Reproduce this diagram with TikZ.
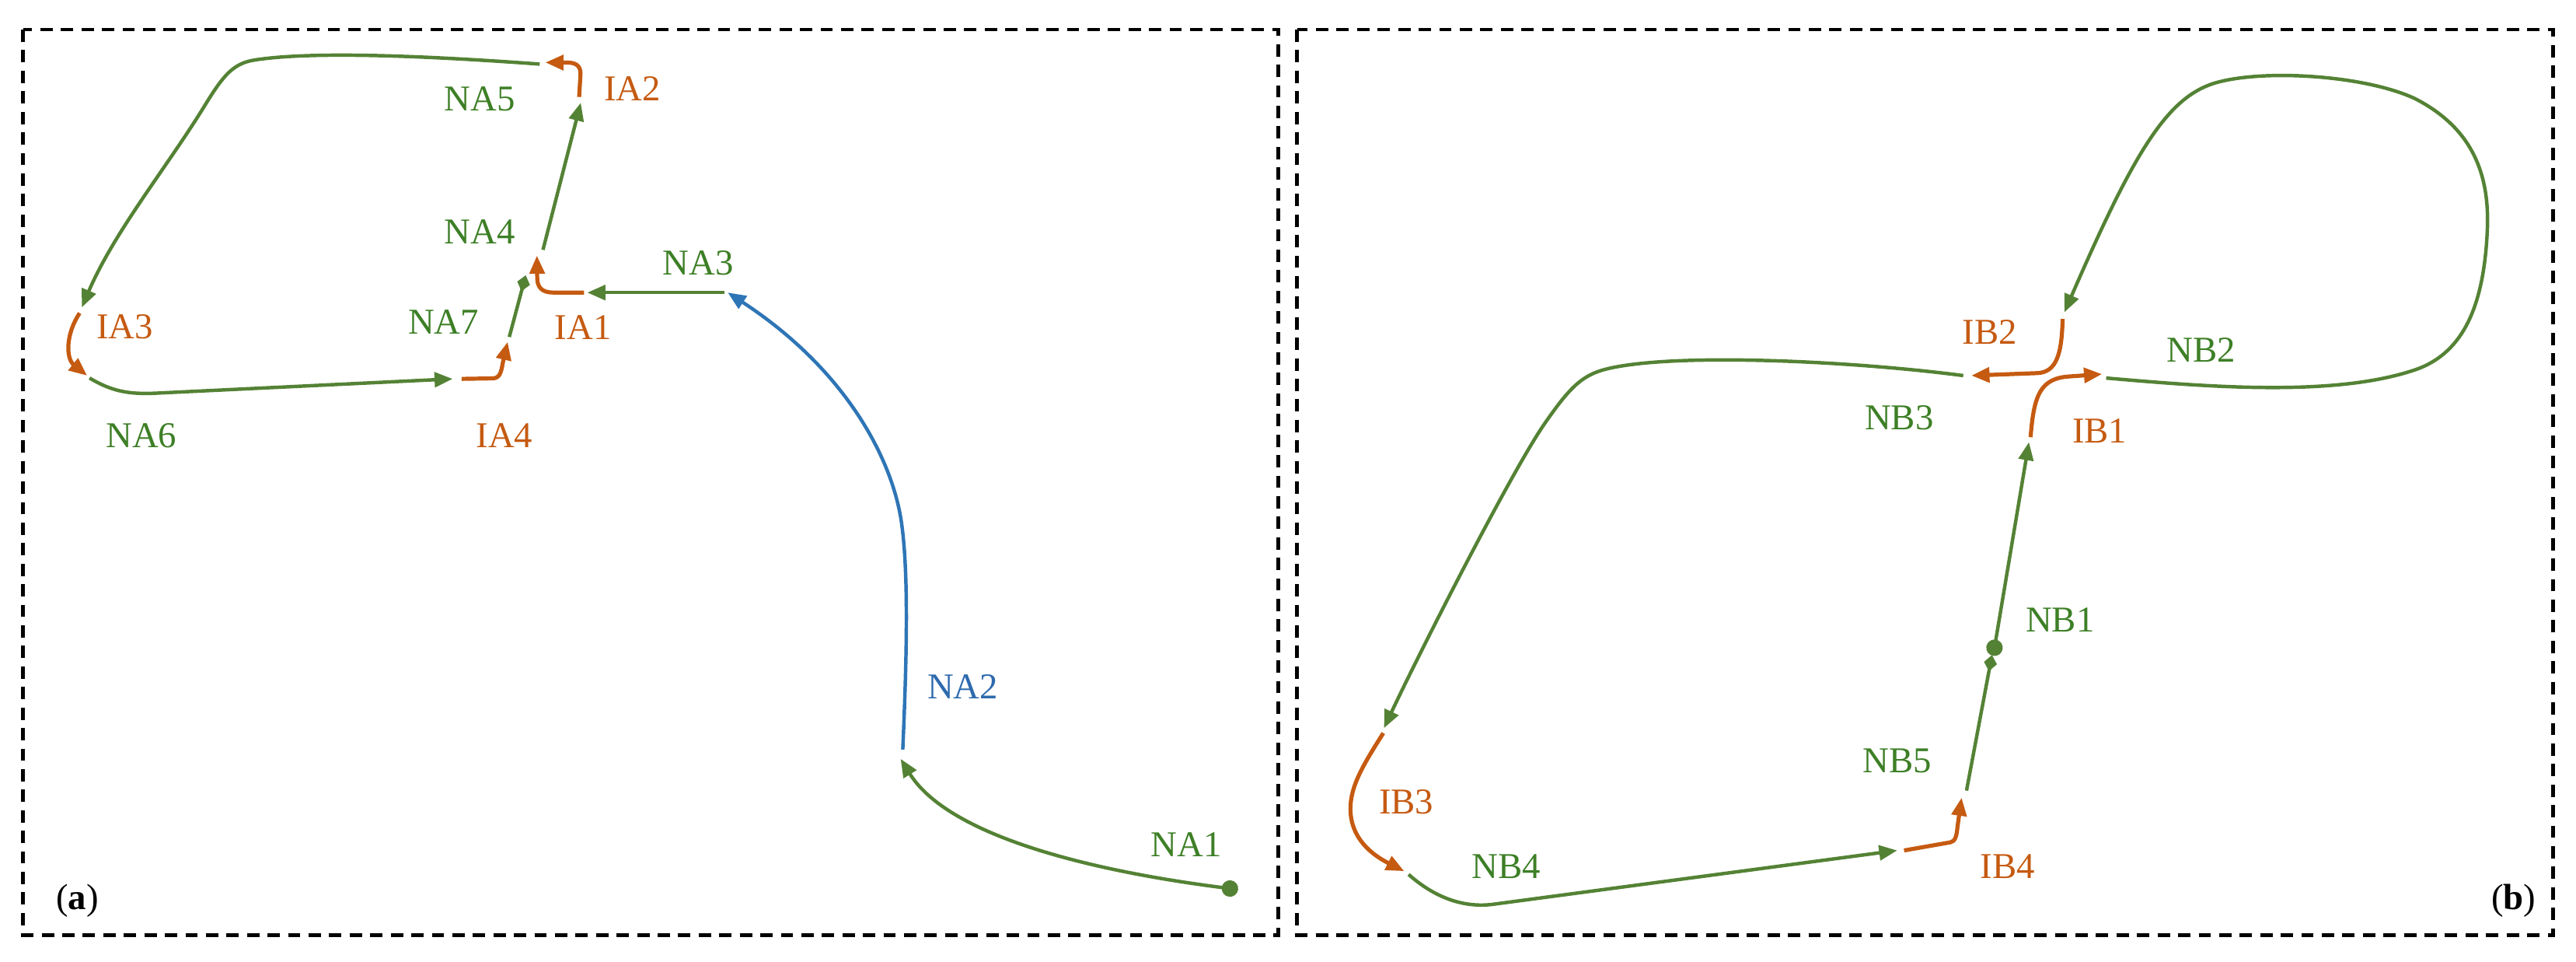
\documentclass[tikz,border=0pt]{standalone}
\usepackage{fontspec}
\setmainfont{Liberation Serif}
\usetikzlibrary{arrows.meta}
\definecolor{cgreen}{HTML}{548235}
\definecolor{tgreen}{HTML}{3D7F26}
\definecolor{corange}{HTML}{C55A11}
\definecolor{cblue}{HTML}{2E75B6}
\definecolor{tblue}{HTML}{2E6AAE}
\tikzset{
  >={Triangle[length=0.22cm,width=0.18cm]},
  gline/.style={draw=cgreen,line width=1.2pt},
  oline/.style={draw=corange,line width=1.4pt,line join=round},
  bline/.style={draw=cblue,line width=1.2pt},
  frame/.style={draw=black,line width=1.3pt,dash pattern=on 0.15cm off 0.1cm},
  lab/.style={inner sep=0pt,font=\fontsize{12.6}{15}\selectfont},
  glab/.style={lab,text=tgreen},
  olab/.style={lab,text=corange},
  blab/.style={lab,text=tblue},
  dotstart/.style={{Circle[length=0.2cm]}->},
  diaend/.style={-{Diamond[length=0.2cm,width=0.16cm]}},
}
\begin{document}
\begin{tikzpicture}[x=0.02cm,y=-0.02cm]
\useasboundingbox (0,0) rectangle (1568,585);
\draw[frame] (14,18) rectangle (778,569);
\draw[frame] (789.5,18) rectangle (1554,569);

% ---------- panel (a) coordinates ----------
\coordinate (a1s) at (753.6,541.2);
\coordinate (a1e) at (548.2,461.7);
\coordinate (a2s) at (549.5,456);
\coordinate (a2e) at (443,178);
\coordinate (a3s) at (441,178);
\coordinate (a3e) at (357.5,178);
\coordinate (i1s) at (355.5,178);
\coordinate (i1e) at (326.8,155.5);
\coordinate (a4s) at (330.5,152);
\coordinate (a4e) at (353.5,62.5);
\coordinate (i2s) at (352.5,59);
\coordinate (i2e) at (332,38);
\coordinate (a5s) at (328.5,39);
\coordinate (a5e) at (49.8,187);
\coordinate (i3s) at (48.5,190.5);
\coordinate (i3e) at (53,228.5);
\coordinate (a6s) at (54.5,230);
\coordinate (a6e) at (275.5,230.5);
\coordinate (i4s) at (281,230.5);
\coordinate (i4e) at (309,208);
\coordinate (a7s) at (310,205);
\coordinate (a7e) at (320,167.5);

\draw[gline,dotstart] (a1s) .. controls (650,528) and (575,505) .. (a1e);
\draw[bline,->] (a2s) .. controls (552,400) and (553,350) .. (549,320)
   .. controls (544,280) and (515,225) .. (a2e);
\draw[gline,->] (a3s) -- (a3e);
\draw[oline,->] (i1s) -- (337,178) .. controls (330,178) and (327,175) .. (327,169) -- (i1e);
\draw[gline,->] (a4s) -- (a4e);
\draw[oline,->] (i2s) -- (353.3,46) .. controls (353.8,40.5) and (351,38.2) .. (346,38.1) -- (i2e);
\draw[gline,->] (a5s) .. controls (260,34) and (190,31) .. (155,36.5)
   .. controls (142,38.5) and (136,46) .. (126,62)
   .. controls (103,100) and (70,140) .. (a5e);
\draw[oline,->] (i3s) .. controls (40,203) and (40,218) .. (i3e);
\draw[gline,->] (a6s) .. controls (68,238) and (78,240) .. (95,239.2) -- (a6e);
\draw[oline,->] (i4s) -- (300,230.2) .. controls (304,230) and (305,227) .. (306,221) -- (i4e);
\draw[gline,diaend] (a7s) -- (a7e);

\node[glab] (NA1) at (722,514) {NA1};
\node[blab] (NA2) at (586,418) {NA2};
\node[glab] (NA3) at (425,160) {NA3};
\node[glab] (NA4) at (292,141) {NA4};
\node[glab] (NA5) at (292,60) {NA5};
\node[glab] (NA6) at (86,265) {NA6};
\node[glab] (NA7) at (270,196) {NA7};
\node[olab] (IA1) at (355,199) {IA1};
\node[olab] (IA2) at (385,54) {IA2};
\node[olab] (IA3) at (76,199) {IA3};
\node[olab] (IA4) at (307,265) {IA4};
\node[lab] (la) at (47,548) {(\textbf{a})};

% ---------- panel (b) coordinates ----------
\coordinate (b1s) at (1213.2,399);
\coordinate (b1e) at (1235,269);
\coordinate (j1s) at (1236,266);
\coordinate (j1e) at (1279.5,227.6);
\coordinate (b2s) at (1282,230);
\coordinate (b2e) at (1256.6,190);
\coordinate (j2s) at (1255.5,194);
\coordinate (j2e) at (1200,228.5);
\coordinate (b3s) at (1195,228.5);
\coordinate (b3e) at (842.4,443);
\coordinate (j3s) at (842,446);
\coordinate (j3e) at (854.7,530);
\coordinate (b4s) at (857.4,532);
\coordinate (b4e) at (1154.8,517.4);
\coordinate (j4s) at (1159,517.4);
\coordinate (j4e) at (1194,485.3);
\coordinate (b5s) at (1197,481);
\coordinate (b5e) at (1212.5,398.5);

\draw[gline,dotstart] (b1s) -- (b1e);
\draw[oline,->] (j1s) .. controls (1238,240) and (1242,230) .. (1260,229) -- (j1e);
\draw[gline,->] (b2s) .. controls (1340,235) and (1420,242) .. (1470,225)
   .. controls (1500,214.8) and (1512,185) .. (1514,140)
   .. controls (1515.5,106) and (1505,78) .. (1470,60)
   .. controls (1440,46) and (1380,42) .. (1350,50)
   .. controls (1320,58) and (1300,90) .. (b2e);
\draw[oline,->] (j2s) .. controls (1255,215) and (1252,226.5) .. (1240,227) -- (j2e);
\draw[gline,->] (b3s) .. controls (1130,220) and (1030,215) .. (985,223)
   .. controls (965,226.5) and (958,232) .. (940,258)
   .. controls (920,287) and (865,395) .. (b3e);
\draw[oline,->] (j3s) .. controls (830,465) and (822,478) .. (822,492)
   .. controls (822,510) and (835,520) .. (j3e);
\draw[gline,->] (b4s) .. controls (872,545) and (890,553) .. (910,550) -- (b4e);
\draw[oline,->] (j4s) -- (1187,512.5) .. controls (1190,512) and (1191,509) .. (1191.5,503) -- (j4e);
\draw[gline,diaend] (b5s) -- (b5e);

\node[glab] (NB1) at (1254,377) {NB1};
\node[glab] (NB2) at (1340,213) {NB2};
\node[glab] (NB3) at (1156,254) {NB3};
\node[glab] (NB4) at (917,527) {NB4};
\node[glab] (NB5) at (1155,463) {NB5};
\node[olab] (IB1) at (1278,262) {IB1};
\node[olab] (IB2) at (1211,202) {IB2};
\node[olab] (IB3) at (856,488) {IB3};
\node[olab] (IB4) at (1222,527) {IB4};
\node[lab] (lb) at (1530,548) {(\textbf{b})};
\end{tikzpicture}
\end{document}
